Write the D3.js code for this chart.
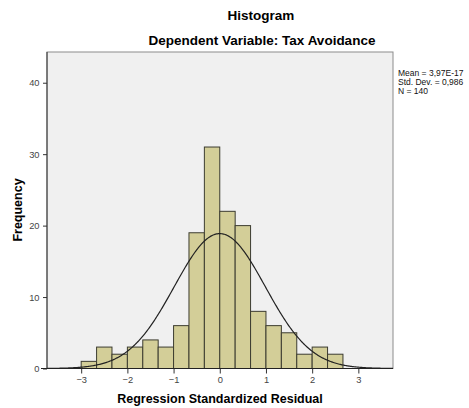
<!DOCTYPE html>
<html><head><meta charset="utf-8">
<script src="https://cdn.jsdelivr.net/npm/d3@7"></script>
<style>body{margin:0;background:#fff;}svg{display:block;font-family:"Liberation Sans",Arial,sans-serif;}</style>
</head><body>
<script>
const binStart = -3;
const binWidth = 1/3;
const counts = [1,3,2,3,4,3,6,19,31,22,20,8,6,5,2,3,2];
const xTicks = [-3,-2,-1,0,1,2,3];
const yTicks = [0,10,20,30,40];
const mean = 0, sd = 0.986, N = 140;
const statsLines = ["Mean = 3,97E-17","Std. Dev. = 0,986","N = 140"];

const W = 469, H = 408;
const L = 47, R = 393, T = 52, B = 368.5;
const svg = d3.select("body").append("svg").attr("width",W).attr("height",H);
const x = d3.scaleLinear().domain([-3.74,3.75]).range([L,R]);
const y = d3.scaleLinear().domain([0,44.3]).range([B,T]);

svg.append("rect").attr("x",L).attr("y",T).attr("width",R-L).attr("height",B-T)
  .attr("fill","#f0f0f0").attr("stroke","#8c8c8c").attr("stroke-width",1);

const bins = counts.map((c,i)=>({x0:binStart+i*binWidth,x1:binStart+(i+1)*binWidth,c}));
svg.append("g").selectAll("rect").data(bins).join("rect")
  .attr("x",d=>x(d.x0)).attr("width",d=>x(d.x1)-x(d.x0))
  .attr("y",d=>y(d.c)).attr("height",d=>y(0)-y(d.c))
  .attr("fill","#d3ce98").attr("stroke","#3c3c30").attr("stroke-width",1);

// normal curve
const k = N*binWidth/(sd*Math.sqrt(2*Math.PI));
const pts = d3.range(0,401).map(i=>{const v=-3.74+i*(7.49/400);return [v,k*Math.exp(-0.5*((v-mean)/sd)**2)];});
svg.append("path").datum(pts).attr("fill","none").attr("stroke","#222").attr("stroke-width",1.2)
  .attr("d",d3.line().x(d=>x(d[0])).y(d=>y(d[1])));

// axes
const xa = svg.append("g").attr("transform",`translate(0,${B})`)
  .call(d3.axisBottom(x).tickValues(xTicks).tickSize(5).tickPadding(3).tickFormat(d3.format("d")));
const ya = svg.append("g").attr("transform",`translate(${L},0)`)
  .call(d3.axisLeft(y).tickValues(yTicks).tickSize(4).tickPadding(3.5).tickFormat(d3.format("d")));
[xa,ya].forEach(g=>{
  g.select(".domain").remove();
  g.selectAll("line").attr("stroke","#333");
  g.selectAll("text").attr("fill","#444").attr("font-size",9.3).attr("font-family","Liberation Sans, Arial, sans-serif");
});
svg.append("line").attr("x1",41).attr("x2",R).attr("y1",B).attr("y2",B).attr("stroke","#222");
svg.append("line").attr("x1",L).attr("x2",L).attr("y1",T).attr("y2",B).attr("stroke","#333");

svg.append("text").attr("x",261).attr("y",20).attr("text-anchor","middle")
  .attr("font-weight","bold").attr("font-size",13.5).text("Histogram");
svg.append("text").attr("x",262).attr("y",45).attr("text-anchor","middle")
  .attr("font-weight","bold").attr("font-size",13.5).text("Dependent Variable: Tax Avoidance");
svg.append("text").attr("x",220).attr("y",402.5).attr("text-anchor","middle")
  .attr("font-weight","bold").attr("font-size",12.5).text("Regression Standardized Residual");
svg.append("text").attr("transform","translate(21.5,210) rotate(-90)").attr("text-anchor","middle")
  .attr("font-weight","bold").attr("font-size",12.5).text("Frequency");

svg.append("g").selectAll("text").data(statsLines).join("text")
  .attr("x",398).attr("y",(d,i)=>76+i*9).attr("font-size",8.5).attr("fill","#111").text(d=>d);
</script>
</body></html>
